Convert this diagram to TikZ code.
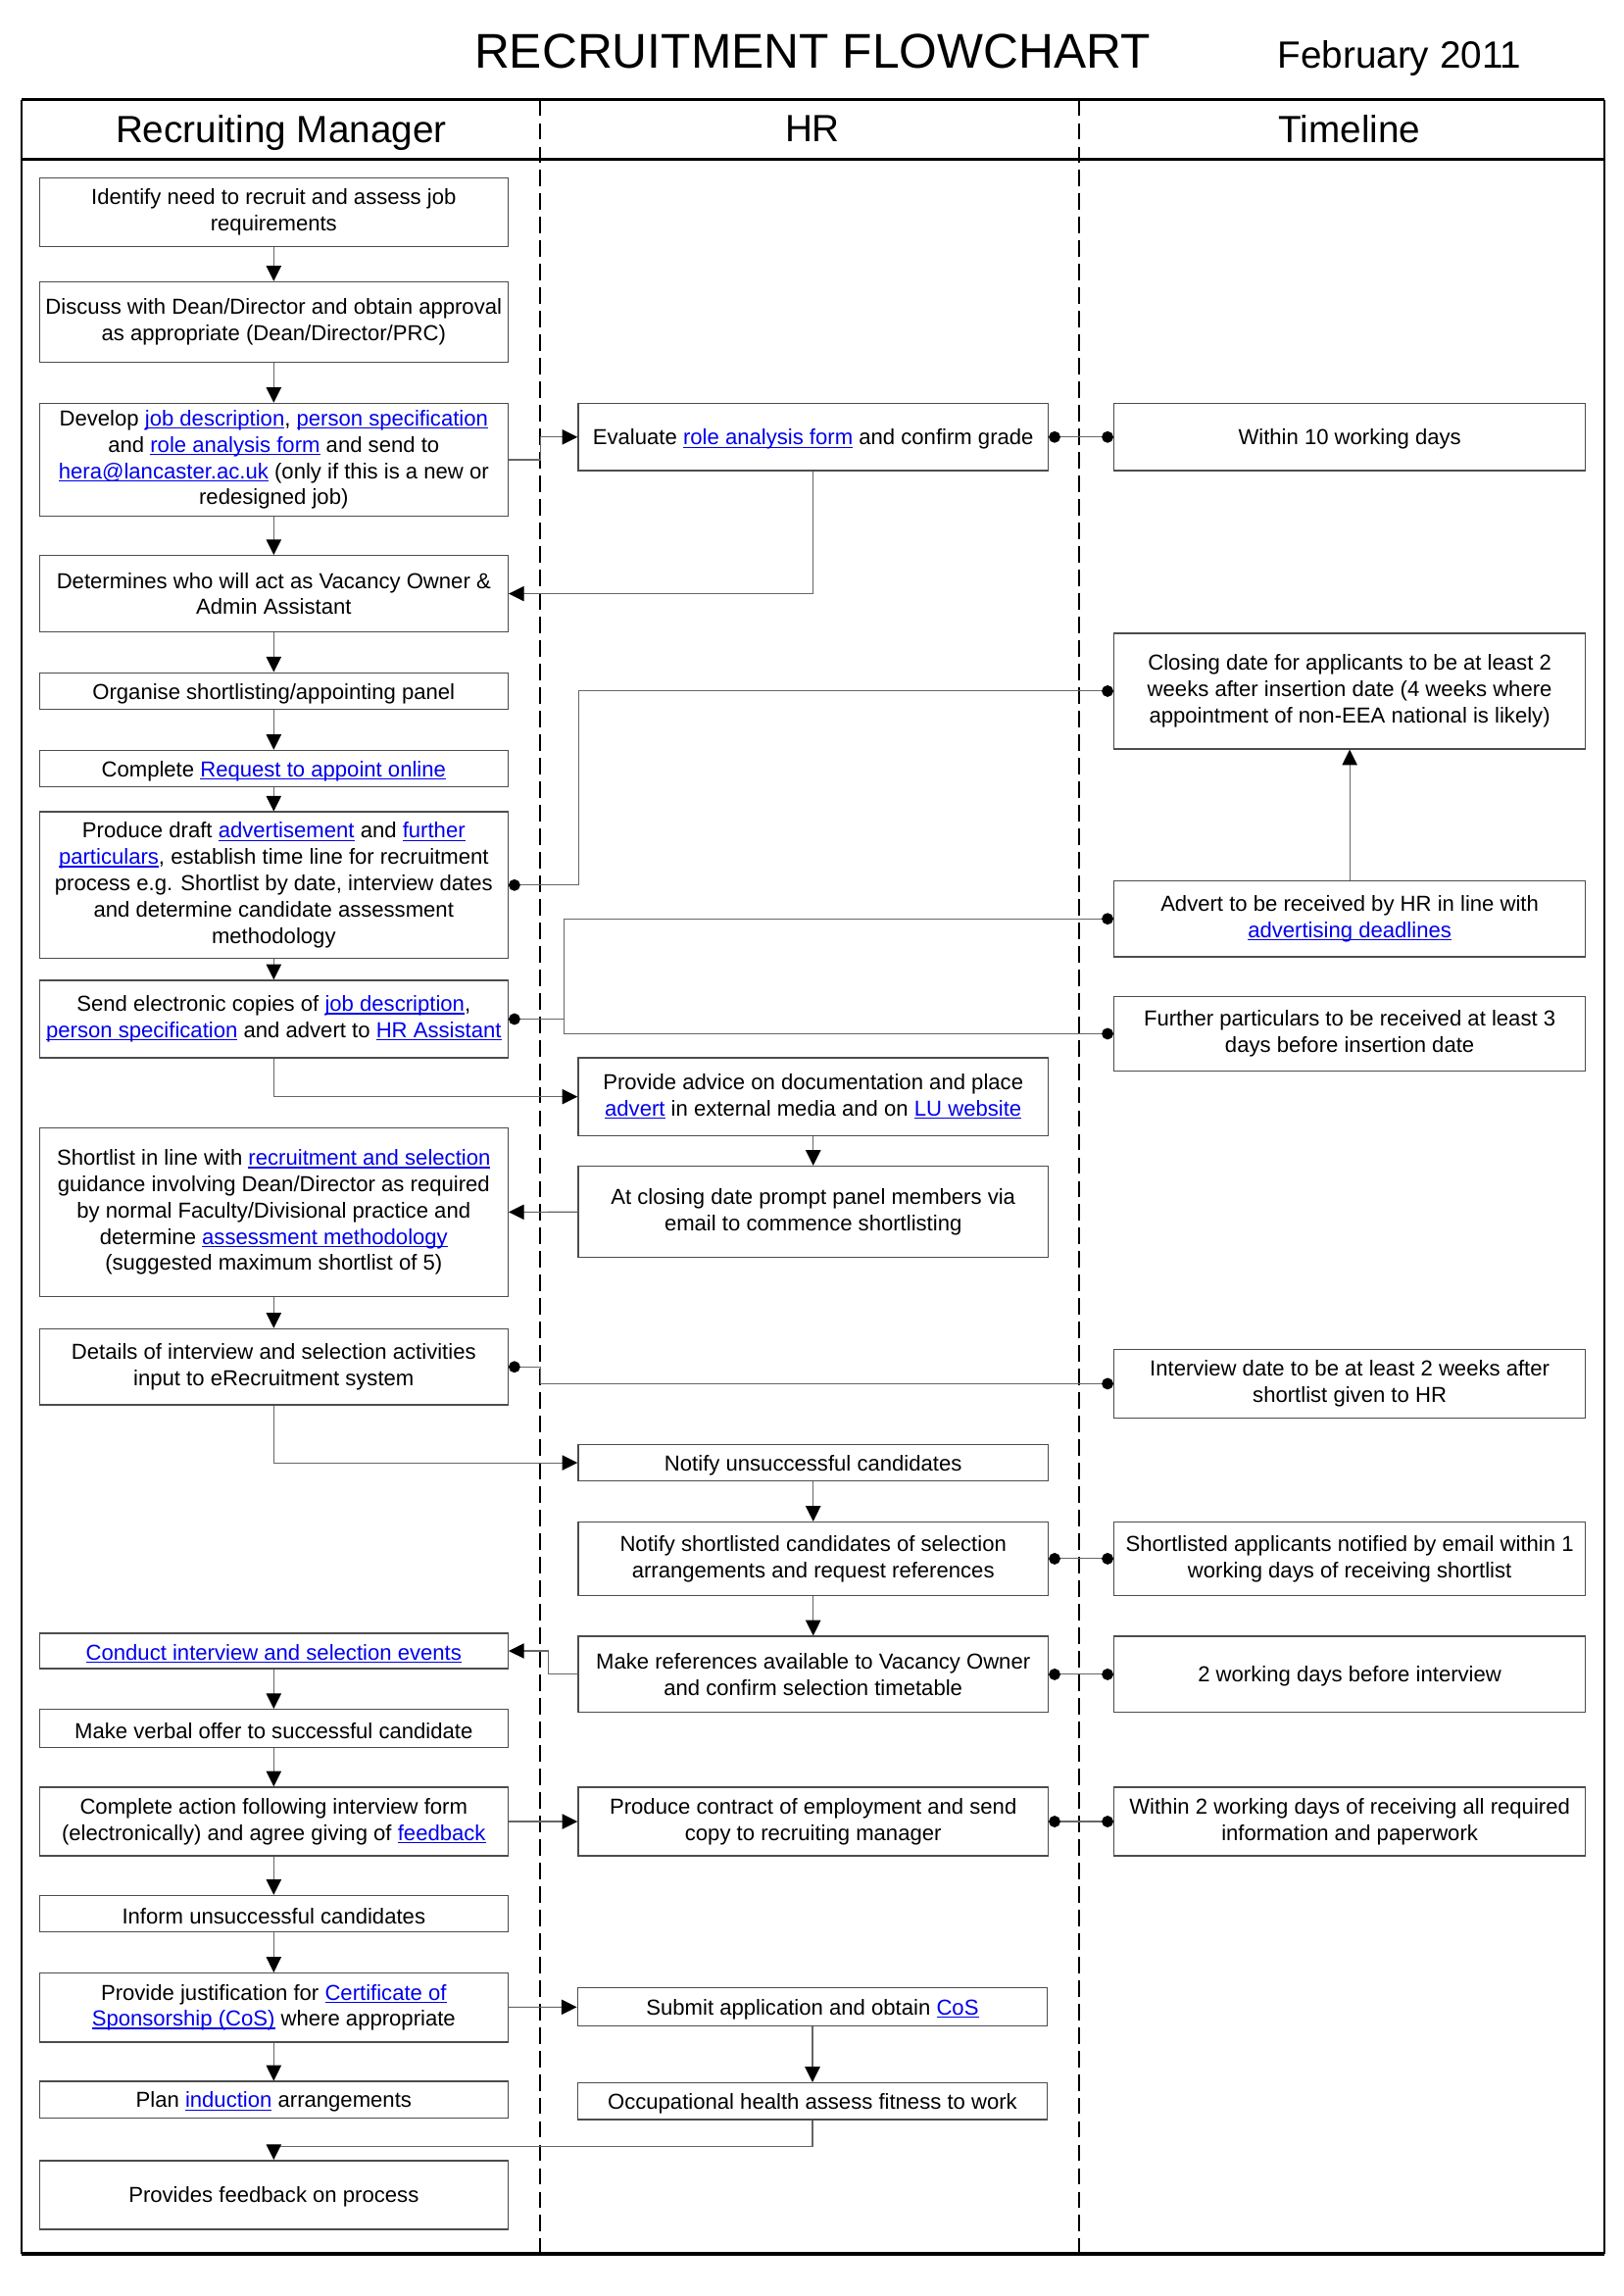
\documentclass[tikz,border=0pt]{standalone}
\usepackage{fontspec}
\setmainfont{Liberation Sans}
\usetikzlibrary{arrows.meta}
\definecolor{linkblue}{RGB}{0,0,235}
\newcommand\unitpx{0.38mm}
\newcommand\lnk[1]{{\color{linkblue}\setbox0\hbox{#1}\rlap{\rule[-2pt]{\wd0}{0.8pt}}\box0}}

\begin{document}
\begin{tikzpicture}[x=0.38mm, y=-0.38mm,
      box/.style={draw=black!70, line width=1pt, fill=white, align=center, inner sep=0pt, anchor=north, font=\fontsize{16}{19.4}\selectfont, execute at begin node={\rule{0pt}{15pt}}},
      lbox/.style={box, minimum width=320*\unitpx},
      hbox/.style={box, minimum width=321*\unitpx},
      tbox/.style={box, minimum width=322*\unitpx},
      tall/.style={minimum height=#1*\unitpx},
      head/.style={font=\fontsize{28}{32}\selectfont, text depth=0pt},
      lane/.style={line width=1.4pt, dash pattern=on 4.3mm off 1.8mm},
      arr/.style={draw=black!60, line width=0.8pt, -{Triangle[length=4mm, width=3.9mm, color=black]}},
      dots/.style={draw=black!60, line width=0.8pt, {Circle[length=3mm, color=black]}-{Circle[length=3mm, color=black]}},
      dotend/.style={draw=black!60, line width=0.8pt, -{Circle[length=3mm, color=black]}}]
    \useasboundingbox (0,0) rectangle (1109,1568);
    \node[font=\fontsize{36}{40}\selectfont] (title) at (555,35) {RECRUITMENT FLOWCHART};
    \node[head] (date) at (956,37) {February 2011};
    \draw[lane] (369,68) -- (369,1539);
    \draw[lane] (737,68) -- (737,1539);
    \draw[line width=1.5pt] (15,68) -- (15,1539) (1096,68) -- (1096,1539);
    \draw[line width=2.6pt] (15,68) -- (1096,68) (15,1539) -- (1096,1539);
    \draw[line width=2.2pt] (15,109) -- (1096,109);
    \node[head] (hRM) at (192,88) {Recruiting Manager};
    \node[head] (hHR) at (555,88) {HR};
    \node[head] (hTL) at (922,88) {Timeline};

    \node[lbox, tall=47] (L1) at (187,121) {Identify need to recruit and assess job\\requirements};
    \node[lbox, tall=55] (L2) at (187,192) {Discuss with Dean/Director and obtain approval\\as appropriate (Dean/Director/PRC)};
    \node[lbox, tall=77] (L3) at (187,275) {Develop \lnk{job description}, \lnk{person specification}\\and \lnk{role analysis form} and send to\\\lnk{hera@lancaster.ac.uk} (only if this is a new or\\redesigned job)};
    \node[lbox, tall=52] (L4) at (187,379) {Determines who will act as Vacancy Owner \&\\Admin Assistant};
    \node[lbox, tall=25] (L5) at (187,459) {Organise shortlisting/appointing panel};
    \node[lbox, tall=25] (L6) at (187,512) {Complete \lnk{Request to appoint online}};
    \node[lbox, tall=100] (L7) at (187,554) {Produce draft \lnk{advertisement} and \lnk{further}\\\lnk{particulars}, establish time line for recruitment\\process e.g. Shortlist by date, interview dates\\and determine candidate assessment\\methodology};
    \node[lbox, tall=53] (L8) at (187,669) {Send electronic copies of \lnk{job description},\\\lnk{person specification} and advert to \lnk{HR Assistant}};
    \node[lbox, tall=115] (L9) at (187,770) {Shortlist in line with \lnk{recruitment and selection}\\guidance involving Dean/Director as required\\by normal Faculty/Divisional practice and\\determine \lnk{assessment methodology}\\(suggested maximum shortlist of 5)};
    \node[lbox, tall=52] (L10) at (187,907) {Details of interview and selection activities\\input to eRecruitment system};
    \node[lbox, tall=24] (L11) at (187,1115) {\lnk{Conduct interview and selection events}};
    \node[lbox, tall=26] (L12) at (187,1167) {Make verbal offer to successful candidate};
    \node[lbox, tall=47] (L13) at (187,1220) {Complete action following interview form\\(electronically) and agree giving of \lnk{feedback}};
    \node[lbox, tall=25] (L14) at (187,1294) {Inform unsuccessful candidates};
    \node[lbox, tall=47] (L15) at (187,1347) {Provide justification for \lnk{Certificate of}\\\lnk{Sponsorship (CoS)} where appropriate};
    \node[lbox, tall=25] (L16) at (187,1421) {Plan \lnk{induction} arrangements};
    \node[lbox, tall=47] (L17) at (187,1475) {Provides feedback on process};

    \node[hbox, tall=46] (M1) at (555.5,275) {Evaluate \lnk{role analysis form} and confirm grade};
    \node[hbox, tall=53] (M2) at (555.5,722) {Provide advice on documentation and place\\\lnk{advert} in external media and on \lnk{LU website}};
    \node[hbox, tall=62] (M3) at (555.5,796) {At closing date prompt panel members via\\email to commence shortlisting};
    \node[hbox, tall=25] (M4) at (555.5,986) {Notify unsuccessful candidates};
    \node[hbox, tall=50] (M5) at (555.5,1039) {Notify shortlisted candidates of selection\\arrangements and request references};
    \node[hbox, tall=52] (M6) at (555.5,1117) {Make references available to Vacancy Owner\\and confirm selection timetable};
    \node[hbox, tall=47] (M7) at (555.5,1220) {Produce contract of employment and send\\copy to recruiting manager};
    \node[hbox, tall=26] (M8) at (555,1357) {Submit application and obtain \lnk{CoS}};
    \node[hbox, tall=25] (M9) at (555,1422) {Occupational health assess fitness to work};

    \node[tbox, tall=46] (R1) at (922,275) {Within 10 working days};
    \node[tbox, tall=79] (R2) at (922,432) {Closing date for applicants to be at least 2\\weeks after insertion date (4 weeks where\\appointment of non-EEA national is likely)};
    \node[tbox, tall=52] (R3) at (922,601) {Advert to be received by HR in line with\\\lnk{advertising deadlines}};
    \node[tbox, tall=51] (R4) at (922,680) {Further particulars to be received at least 3\\days before insertion date};
    \node[tbox, tall=47] (R5) at (922,921) {Interview date to be at least 2 weeks after\\shortlist given to HR};
    \node[tbox, tall=50] (R6) at (922,1039) {Shortlisted applicants notified by email within 1\\working days of receiving shortlist};
    \node[tbox, tall=52] (R7) at (922,1117) {2 working days before interview};
    \node[tbox, tall=47] (R8) at (922,1220) {Within 2 working days of receiving all required\\information and paperwork};

    \draw[arr] (L1) -- (L2); \draw[arr] (L2) -- (L3); \draw[arr] (L3) -- (L4);
    \draw[arr] (L4) -- (L5); \draw[arr] (L5) -- (L6); \draw[arr] (L6) -- (L7);
    \draw[arr] (L7) -- (L8); \draw[arr] (L9) -- (L10); \draw[arr] (L11) -- (L12);
    \draw[arr] (L12) -- (L13); \draw[arr] (L13) -- (L14); \draw[arr] (L14) -- (L15);
    \draw[arr] (L15) -- (L16);
    \draw[arr] (M2) -- (M3); \draw[arr] (M4) -- (M5); \draw[arr] (M5) -- (M6);
    \draw[arr] (M8) -- (M9);
    \draw[arr] (L3.east) -- ++(22,0) |- (M1.west);
    \draw[arr] (M1.south) |- (L4.east);
    \draw[arr] (L8.south) |- (M2.west);
    \draw[arr] (M3) -- (L9);
    \draw[arr] (L10.south) |- (M4.west);
    \draw[arr] (M6.west) -- ++(-20,0) |- (L11.east);
    \draw[arr] (L13) -- (M7);
    \draw[arr] (L15) -- (M8);
    \draw[arr] (M9.south) -- ++(0,18) -| (L17.north);
    \draw[arr] (R3) -- (R2);
    \draw[dots] (M1) -- (R1);
    \draw[dots] (L7.east) -- ++(48,0) |- (R2.west);
    \draw[dots] (L8.east) -- ++(38,0) coordinate (jn) |- (R3.west);
    \draw[dotend] (jn) |- (R4.west);
    \draw[dots] (L10.east) -- ++(22,0) |- (R5.west);
    \draw[dots] (M5) -- (R6);
    \draw[dots] (M6) -- (R7);
    \draw[dots] (M7) -- (R8);
  \end{tikzpicture}
\end{document}
